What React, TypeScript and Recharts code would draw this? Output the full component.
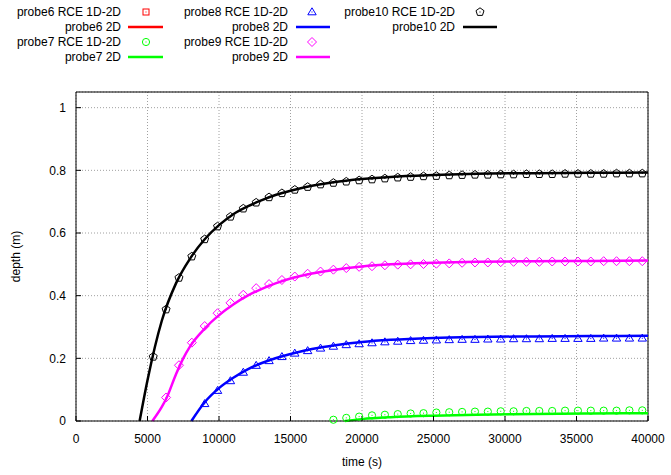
import { ComposedChart, Line, Scatter, XAxis, YAxis, CartesianGrid, ReferenceLine } from "recharts"

const FONT = '"Liberation Sans", Arial, Helvetica, sans-serif'

const xTicks = [0, 5000, 10000, 15000, 20000, 25000, 30000, 35000, 40000]
const yTicks = [0, 0.2, 0.4, 0.6, 0.8, 1]
const xMax = 40000
const yMax = 1.05

// [time (s), depth (m)]
const probe6Rce: number[][] = []
const probe6Model: number[][] = []

const probe7Rce = [
    [18000, 0.004], [18900, 0.01], [19800, 0.014], [20700, 0.018], [21600, 0.02],
    [22500, 0.022], [23400, 0.024], [24300, 0.025], [25200, 0.027], [26100, 0.028],
    [27000, 0.029], [27900, 0.03], [28800, 0.03], [29700, 0.031], [30600, 0.031],
    [31500, 0.032], [32400, 0.032], [33300, 0.032], [34200, 0.033], [35100, 0.033],
    [36000, 0.033], [36900, 0.033], [37800, 0.033], [38700, 0.034], [39600, 0.034],
]
const probe7Model = [
    [18800, 0], [20000, 0.006], [22000, 0.012], [25000, 0.017], [28000, 0.02],
    [32000, 0.022], [36000, 0.024], [40000, 0.025],
]

const probe8Rce = [
    [9000, 0.055], [9900, 0.097], [10800, 0.128], [11700, 0.155], [12600, 0.177],
    [13500, 0.192], [14400, 0.205], [15300, 0.216], [16200, 0.224], [17100, 0.232],
    [18000, 0.238], [18900, 0.243], [19800, 0.246], [20700, 0.249], [21600, 0.252],
    [22500, 0.254], [23400, 0.256], [24300, 0.257], [25200, 0.258], [26100, 0.259],
    [27000, 0.26], [27900, 0.26], [28800, 0.261], [29700, 0.261], [30600, 0.262],
    [31500, 0.262], [32400, 0.262], [33300, 0.263], [34200, 0.263], [35100, 0.263],
    [36000, 0.263], [36900, 0.264], [37800, 0.264], [38700, 0.264], [39600, 0.264],
]
const probe8Model = [
    [8070, 0], [9000, 0.06], [10000, 0.105], [11000, 0.138], [12000, 0.165],
    [13000, 0.185], [14000, 0.201], [15000, 0.214], [16000, 0.225], [17000, 0.234],
    [18000, 0.241], [20000, 0.252], [22000, 0.259], [25000, 0.265], [28000, 0.268],
    [32000, 0.27], [36000, 0.271], [40000, 0.272],
]

const probe9Rce = [
    [6300, 0.075], [7200, 0.178], [8100, 0.25], [9000, 0.303], [9900, 0.344],
    [10800, 0.377], [11700, 0.403], [12600, 0.424], [13500, 0.437], [14400, 0.45],
    [15300, 0.461], [16200, 0.47], [17100, 0.477], [18000, 0.483], [18900, 0.488],
    [19800, 0.492], [20700, 0.494], [21600, 0.497], [22500, 0.499], [23400, 0.5],
    [24300, 0.501], [25200, 0.502], [26100, 0.503], [27000, 0.505], [27900, 0.506],
    [28800, 0.506], [29700, 0.507], [30600, 0.508], [31500, 0.508], [32400, 0.508],
    [33300, 0.509], [34200, 0.509], [35100, 0.509], [36000, 0.509], [36900, 0.51],
    [37800, 0.51], [38700, 0.51], [39600, 0.51],
]
const probe9Model = [
    [5340, 0], [6000, 0.045], [6300, 0.07], [7000, 0.15], [7500, 0.2], [8000, 0.24],
    [9000, 0.295], [10000, 0.338], [11000, 0.372], [12000, 0.4], [13000, 0.422],
    [14000, 0.44], [15000, 0.455], [16000, 0.466], [17000, 0.475], [18000, 0.482],
    [20000, 0.493], [22000, 0.5], [25000, 0.505], [28000, 0.508], [32000, 0.51],
    [36000, 0.511], [40000, 0.512],
]

const probe10Rce = [
    [5400, 0.205], [6300, 0.356], [7200, 0.457], [8100, 0.525], [9000, 0.58],
    [9900, 0.621], [10800, 0.652], [11700, 0.678], [12600, 0.697], [13500, 0.714],
    [14400, 0.727], [15300, 0.738], [16200, 0.747], [17100, 0.755], [18000, 0.76],
    [18900, 0.764], [19800, 0.768], [20700, 0.771], [21600, 0.774], [22500, 0.777],
    [23400, 0.779], [24300, 0.781], [25200, 0.782], [26100, 0.784], [27000, 0.785],
    [27900, 0.786], [28800, 0.786], [29700, 0.787], [30600, 0.787], [31500, 0.788],
    [32400, 0.788], [33300, 0.788], [34200, 0.789], [35100, 0.789], [36000, 0.789],
    [36900, 0.789], [37800, 0.79], [38700, 0.79], [39600, 0.79],
]
const probe10Model = [
    [4450, 0], [5000, 0.13], [6000, 0.32], [7000, 0.44], [8000, 0.52], [9000, 0.58],
    [10000, 0.625], [11000, 0.66], [12000, 0.685], [13000, 0.705], [14000, 0.722],
    [15000, 0.735], [16000, 0.746], [17000, 0.755], [18000, 0.762], [20000, 0.772],
    [22000, 0.779], [25000, 0.785], [28000, 0.789], [32000, 0.791], [36000, 0.792],
    [40000, 0.793],
]

type Kind = "square" | "circle" | "triangle" | "diamond" | "pentagon"

const probes: { name: string; color: string; kind: Kind; rce: number[][]; model: number[][] }[] = [
    { name: "probe6", color: "#ff0000", kind: "square", rce: probe6Rce, model: probe6Model },
    { name: "probe7", color: "#00ff00", kind: "circle", rce: probe7Rce, model: probe7Model },
    { name: "probe8", color: "#0000ff", kind: "triangle", rce: probe8Rce, model: probe8Model },
    { name: "probe9", color: "#ff00ff", kind: "diamond", rce: probe9Rce, model: probe9Model },
    { name: "probe10", color: "#000000", kind: "pentagon", rce: probe10Rce, model: probe10Model },
]

const toPoints = (rows: number[][]) => rows.map(([t, v]) => ({ t, v }))

function Marker({ cx, cy, kind, color }: { cx: number; cy: number; kind: Kind; color: string }) {
    if (cx == null || cy == null) return null
    let outline
    if (kind === "square") {
        outline = <rect x={cx - 3} y={cy - 3} width={6} height={6} />
    } else if (kind === "circle") {
        outline = <circle cx={cx} cy={cy} r={3.6} />
    } else if (kind === "triangle") {
        outline = <polygon points={`${cx},${cy - 4.2} ${cx - 4.2},${cy + 2.8} ${cx + 4.2},${cy + 2.8}`} />
    } else if (kind === "diamond") {
        outline = <polygon points={`${cx},${cy - 4.5} ${cx + 4.5},${cy} ${cx},${cy + 4.5} ${cx - 4.5},${cy}`} />
    } else {
        const pts = [0, 1, 2, 3, 4]
            .map((i) => {
                const a = ((-90 + 72 * i) * Math.PI) / 180
                return `${cx + 4.2 * Math.cos(a)},${cy + 4.2 * Math.sin(a)}`
            })
            .join(" ")
        outline = <polygon points={pts} />
    }
    return (
        <g stroke={color} fill="none" strokeWidth={1}>
            {outline}
            <rect x={cx - 0.5} y={cy - 0.5} width={1} height={1} fill={color} stroke="none" />
        </g>
    )
}

const markerShape = (kind: Kind, color: string) => (props: any) => (
    <Marker cx={props.cx} cy={props.cy} kind={kind} color={color} />
)

function LegendOverlay() {
    const cols = [
        { textX: 121, markX: 146, lineX1: 128, lineX2: 163 },
        { textX: 288, markX: 312, lineX1: 296, lineX2: 330 },
        { textX: 455, markX: 480, lineX1: 463, lineX2: 497 },
    ]
    const rowY = [12, 27, 42, 57]
    const items: any[] = []
    probes.forEach((p, i) => {
        const col = cols[Math.floor(i / 2)]
        const r0 = (i % 2) * 2
        items.push(
            <g key={p.name}>
                <text x={col.textX} y={rowY[r0]} textAnchor="end" dominantBaseline="central">
                    {p.name} RCE 1D-2D
                </text>
                <Marker cx={col.markX} cy={rowY[r0]} kind={p.kind} color={p.color} />
                <text x={col.textX} y={rowY[r0 + 1]} textAnchor="end" dominantBaseline="central">
                    {p.name} 2D
                </text>
                <line x1={col.lineX1} x2={col.lineX2} y1={rowY[r0 + 1]} y2={rowY[r0 + 1]} stroke={p.color} strokeWidth={2.5} />
            </g>
        )
    })
    return (
        <svg
            width={671}
            height={75}
            style={{ position: "absolute", left: 0, top: 0, pointerEvents: "none" }}
            fontFamily={FONT}
            fontSize={12}
            fill="#000"
        >
            {items}
        </svg>
    )
}

export default function App() {
    const tickStyle = { fontSize: 12, fill: "#000", fontFamily: FONT }
    return (
        <div style={{ position: "relative", width: 671, height: 475, background: "#fff" }}>
            <style>{"body{margin:0}"}</style>
            <ComposedChart width={671} height={475} margin={{ top: 92, right: 23, bottom: 0, left: 0 }}>
                <CartesianGrid stroke="#a0a0a0" strokeDasharray="1 2" />
                <XAxis
                    dataKey="t"
                    type="number"
                    domain={[0, xMax]}
                    ticks={xTicks}
                    interval={0}
                    height={54}
                    tickSize={-5}
                    tickMargin={18}
                    tick={tickStyle}
                    stroke="#000"
                    tickLine={{ stroke: "#000" }}
                    label={{ value: "time (s)", position: "insideBottom", offset: 9, style: tickStyle }}
                />
                <XAxis
                    xAxisId="top"
                    orientation="top"
                    type="number"
                    domain={[0, xMax]}
                    ticks={xTicks}
                    interval={0}
                    height={0}
                    tickSize={-5}
                    tick={false}
                    stroke="#000"
                    tickLine={{ stroke: "#000" }}
                />
                <YAxis
                    dataKey="v"
                    type="number"
                    domain={[0, yMax]}
                    ticks={yTicks}
                    interval={0}
                    width={76}
                    tickSize={-5}
                    tickMargin={15}
                    tick={tickStyle}
                    stroke="#000"
                    tickLine={{ stroke: "#000" }}
                    label={{
                        value: "depth (m)",
                        angle: -90,
                        position: "insideLeft",
                        offset: 16,
                        style: { ...tickStyle, textAnchor: "middle" },
                    }}
                />
                <YAxis
                    yAxisId="right"
                    orientation="right"
                    type="number"
                    domain={[0, yMax]}
                    ticks={yTicks}
                    interval={0}
                    width={0}
                    tickSize={-5}
                    tick={false}
                    stroke="#000"
                    tickLine={{ stroke: "#000" }}
                />
                {/* plot frame, top and right */}
                <ReferenceLine y={yMax} stroke="#000" strokeWidth={1} />
                <ReferenceLine x={xMax} stroke="#000" strokeWidth={1} />
                {probes.flatMap((p) => [
                    <Scatter
                        key={p.name + "-rce"}
                        data={toPoints(p.rce)}
                        shape={markerShape(p.kind, p.color)}
                        isAnimationActive={false}
                    />,
                    <Line
                        key={p.name + "-2d"}
                        data={toPoints(p.model)}
                        dataKey="v"
                        type="monotone"
                        stroke={p.color}
                        strokeWidth={2.5}
                        dot={false}
                        activeDot={false}
                        isAnimationActive={false}
                    />,
                ])}
            </ComposedChart>
            <LegendOverlay />
        </div>
    )
}
